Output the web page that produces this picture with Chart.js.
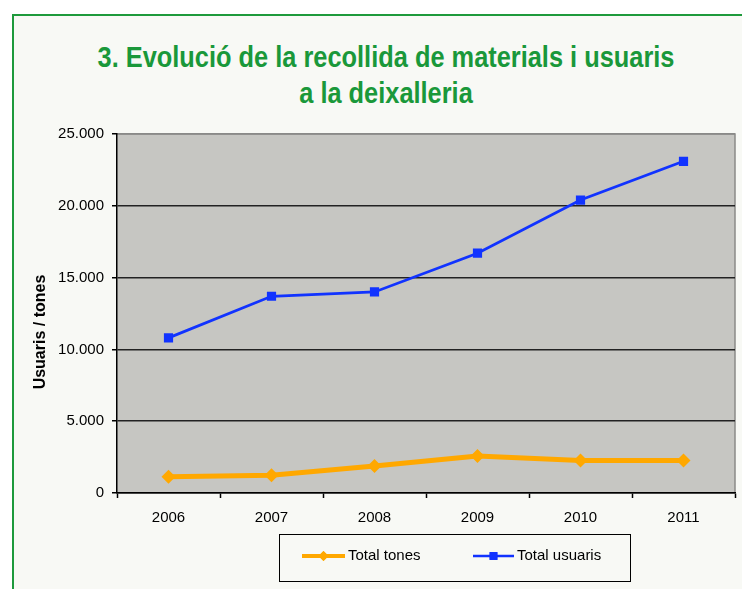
<!DOCTYPE html>
<html>
<head>
<meta charset="utf-8">
<script src="https://cdn.jsdelivr.net/npm/chart.js@4/dist/chart.umd.min.js"></script>
<style>
  html, body { margin: 0; padding: 0; background: #fff; }
  #wrap { position: relative; width: 742px; height: 589px; overflow: hidden; }
  #frame {
    position: absolute; left: 12px; top: 14px; width: 800px; height: 620px;
    border: 2.5px solid #1e9a3c; background: #f8f9f5; box-sizing: border-box;
  }
  .title {
    position: absolute; left: 0; width: 772px; text-align: center;
    font-family: "Liberation Sans", Arial, sans-serif; font-weight: bold;
    font-size: 30px; line-height: 30px; color: #1a983a;
    transform: scaleX(0.846); transform-origin: 386px 0;
    white-space: nowrap;
  }
  #chart { position: absolute; left: 0; top: 0; }
</style>
</head>
<body>
<div id="wrap">
  <div id="frame"></div>
  <div class="title" style="top:42px">3. Evolució de la recollida de materials i usuaris</div>
  <div class="title" style="top:78px">a la deixalleria</div>
  <canvas id="chart" width="742" height="589"></canvas>
</div>
<script>
document.addEventListener("DOMContentLoaded", () => {
  // Values
  const years = ["2006", "2007", "2008", "2009", "2010", "2011"];
  const totalTones = [1140, 1230, 1875, 2570, 2270, 2270];
  const totalUsuaris = [10800, 13700, 14000, 16700, 20400, 23100];
  const yTickLabels = ["0", "5.000", "10.000", "15.000", "20.000", "25.000"];
  const yAxisTitle = "Usuaris / tones";

  const FONT = "'Liberation Sans', Arial, sans-serif";

  // gray plot background + gray top/right frame
  const plotBg = {
    id: "plotBg",
    beforeDraw(chart) {
      const { ctx, chartArea: a } = chart;
      ctx.save();
      ctx.fillStyle = "#c6c6c2";
      ctx.fillRect(a.left, a.top, a.right - a.left, a.bottom - a.top);
      ctx.strokeStyle = "#8a8a88";
      ctx.lineWidth = 1.5;
      ctx.beginPath();
      ctx.moveTo(a.left, a.top);
      ctx.lineTo(a.right, a.top);
      ctx.lineTo(a.right, a.bottom);
      ctx.stroke();
      ctx.restore();
    },
  };

  // y title placed a bit below the axis middle, as in the original
  const yTitle = {
    id: "yTitle",
    afterDraw(chart) {
      const { ctx } = chart;
      ctx.save();
      ctx.translate(41, 332);
      ctx.rotate(-Math.PI / 2);
      ctx.font = "bold 16px " + FONT;
      ctx.fillStyle = "#000";
      ctx.textAlign = "center";
      ctx.textBaseline = "middle";
      ctx.fillText(yAxisTitle, 0, 0);
      ctx.restore();
    },
  };

  // boxed legend with line + marker samples
  const boxLegend = {
    id: "boxLegend",
    afterDraw(chart) {
      const { ctx } = chart;
      const ds = chart.data.datasets;
      ctx.save();
      ctx.fillStyle = "#f8f9f5";
      ctx.fillRect(279.5, 534.5, 351, 47);
      ctx.strokeStyle = "#000";
      ctx.lineWidth = 1;
      ctx.strokeRect(279.5, 534.5, 351, 47);

      const items = [
        { x0: 302, x1: 345, lw: 4, r: 5, style: "rectRot" },
        { x0: 473, x1: 514, lw: 2.5, r: 5.5, style: "rect" },
      ];
      const y = 556;
      items.forEach((it, i) => {
        const d = ds[i];
        ctx.strokeStyle = d.borderColor;
        ctx.lineWidth = it.lw;
        ctx.beginPath();
        ctx.moveTo(it.x0, y);
        ctx.lineTo(it.x1, y);
        ctx.stroke();
        ctx.fillStyle = d.pointBackgroundColor;
        Chart.helpers.drawPoint(ctx, { pointStyle: it.style, radius: it.r, borderWidth: 0, rotation: 0 },
          (it.x0 + it.x1) / 2, y);
        ctx.fill();
        ctx.fillStyle = "#000";
        ctx.font = "15px " + FONT;
        ctx.textAlign = "left";
        ctx.textBaseline = "middle";
        ctx.fillText(d.label, it.x1 + 3, y);
      });
      ctx.restore();
    },
  };

  new Chart(document.getElementById("chart"), {
    type: "line",
    data: {
      labels: years,
      datasets: [
        {
          label: "Total tones",
          data: totalTones,
          borderColor: "#ffa800",
          backgroundColor: "#ffa800",
          pointBackgroundColor: "#ffa800",
          pointBorderColor: "#ffa800",
          borderWidth: 5,
          pointStyle: "rectRot",
          pointRadius: 7,
          pointBorderWidth: 0,
          tension: 0,
        },
        {
          label: "Total usuaris",
          data: totalUsuaris,
          borderColor: "#1133ff",
          backgroundColor: "#1133ff",
          pointBackgroundColor: "#1133ff",
          pointBorderColor: "#1133ff",
          borderWidth: 2.8,
          pointStyle: "rect",
          pointRadius: 6.5,
          pointBorderWidth: 0,
          tension: 0,
        },
      ],
    },
    options: {
      responsive: false,
      animation: false,
      devicePixelRatio: 1,
      layout: { padding: { top: 134, right: 6, bottom: 0, left: 0 } },
      scales: {
        x: {
          offset: true,
          afterFit: (s) => { s.height = 96; },
          grid: {
            offset: true,
            drawOnChartArea: false,
            drawTicks: true,
            tickLength: 5,
            tickColor: "#000",
            tickWidth: 1.5,
          },
          border: { color: "#000", width: 1.5 },
          ticks: { color: "#000", font: { family: FONT, size: 15 }, padding: 11 },
        },
        y: {
          min: 0,
          max: 25000,
          afterFit: (s) => { s.width = 117; },
          grid: {
            color: (c) => (c.tick && c.tick.value === 25000 ? "#8a8a88" : "#222"),
            lineWidth: 1.5,
            tickLength: 5,
            tickColor: "#000",
            tickWidth: 1.5,
          },
          border: { color: "#000", width: 1.5 },
          ticks: {
            stepSize: 5000,
            padding: 8,
            color: "#000",
            font: { family: FONT, size: 15 },
            callback: (v, i) => yTickLabels[i],
          },
        },
      },
      plugins: {
        legend: { display: false },
        title: { display: false },
        tooltip: { enabled: false },
      },
    },
    plugins: [plotBg, yTitle, boxLegend],
  });
});
</script>
</body>
</html>
